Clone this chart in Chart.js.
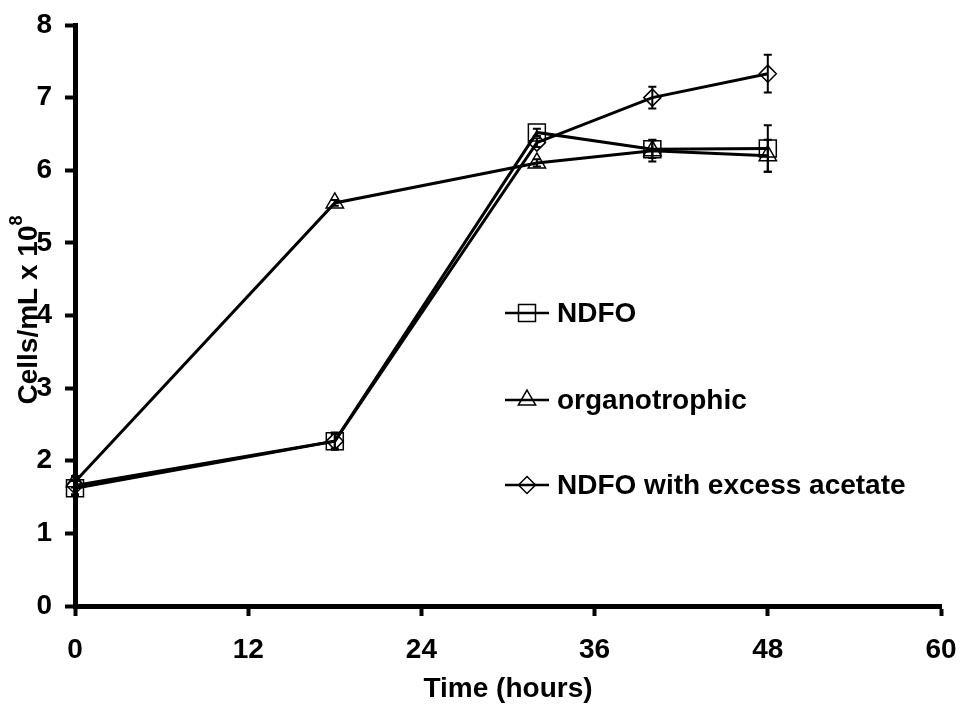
<!DOCTYPE html>
<html>
<head>
<meta charset="utf-8">
<script src="https://cdn.jsdelivr.net/npm/chart.js@4/dist/chart.umd.min.js"></script>
<style>
  body { margin: 0; background: #fff; }
  #wrap { width: 962px; height: 706px; position: relative; }
</style>
</head>
<body>
<div id="wrap"><canvas id="growth"></canvas></div>
<script>
// time points (hours)
const hours = [0, 18, 32, 40, 48];

// cells/mL x 10^8, with error bars
const ndfo = [1.62, 2.27, 6.52, 6.29, 6.3];
const ndfoErr = [0.1, 0.1, 0.05, 0.12, 0.32];
const organotrophic = [1.71, 5.55, 6.1, 6.27, 6.2];
const organotrophicErr = [0.08, 0.04, 0.05, 0.15, 0.22];
const acetate = [1.66, 2.27, 6.38, 7.0, 7.33];
const acetateErr = [0.12, 0.12, 0.06, 0.15, 0.26];

const seriesNames = ["NDFO", "organotrophic", "NDFO with excess acetate"];
const xTicks = [0, 12, 24, 36, 48, 60];
const yTicks = [0, 1, 2, 3, 4, 5, 6, 7, 8];

const FONT = "'Liberation Sans', Arial, sans-serif";

function pts(ys) {
    return hours.map((h, i) => ({ x: h, y: ys[i] }));
}

function makeSet(label, ys, errs, style, radius) {
    return {
        label: label,
        data: pts(ys),
        errors: errs,
        borderColor: "#000",
        borderWidth: 3,
        backgroundColor: "transparent",
        pointStyle: style,
        pointRadius: radius,
        pointBorderColor: "#000",
        pointBackgroundColor: "transparent",
        pointBorderWidth: 1.5,
        tension: 0,
        clip: false
    };
}

// error bars drawn from the scales
const errorBars = {
    id: "errorBars",
    afterDatasetsDraw(chart) {
        const ctx = chart.ctx;
        const yScale = chart.scales.y;
        ctx.save();
        ctx.strokeStyle = "#000";
        ctx.lineWidth = 2;
        chart.data.datasets.forEach((ds, i) => {
            const meta = chart.getDatasetMeta(i);
            meta.data.forEach((pt, j) => {
                const e = ds.errors[j];
                const v = ds.data[j].y;
                const top = yScale.getPixelForValue(v + e);
                const bot = yScale.getPixelForValue(v - e);
                ctx.beginPath();
                ctx.moveTo(pt.x, top); ctx.lineTo(pt.x, bot);
                ctx.moveTo(pt.x - 4, top); ctx.lineTo(pt.x + 4, top);
                ctx.moveTo(pt.x - 4, bot); ctx.lineTo(pt.x + 4, bot);
                ctx.stroke();
            });
        });
        ctx.restore();
    }
};

// in-plot legend and axis titles
const decorations = {
    id: "decorations",
    afterDraw(chart) {
        const ctx = chart.ctx;
        ctx.save();
        ctx.font = "bold 28px " + FONT;

        // legend
        const rows = [313, 400, 485];
        chart.data.datasets.forEach((ds, i) => {
            const y = rows[i];
            ctx.strokeStyle = "#000";
            ctx.lineWidth = 2.5;
            ctx.beginPath();
            ctx.moveTo(505, y); ctx.lineTo(549, y);
            ctx.stroke();
            ctx.lineWidth = 1.5;
            ctx.fillStyle = "rgba(0,0,0,0)";
            Chart.helpers.drawPoint(ctx, { pointStyle: ds.pointStyle, radius: ds.pointRadius, rotation: 0, borderWidth: 1.5 }, 527, y);
            ctx.fillStyle = "#000";
            ctx.textAlign = "left";
            ctx.textBaseline = "middle";
            ctx.fillText(ds.label, 557, y + 1);
        });

        // x title
        ctx.fillStyle = "#000";
        ctx.textAlign = "center";
        ctx.textBaseline = "middle";
        ctx.fillText("Time (hours)", (chart.chartArea.left + chart.chartArea.right) / 2, 689);

        // y title with superscript
        ctx.save();
        ctx.translate(28, 310);
        ctx.rotate(-Math.PI / 2);
        const main = "Cells/mL x 10";
        const wMain = ctx.measureText(main).width;
        ctx.font = "bold 18px " + FONT;
        const wSup = ctx.measureText("8").width;
        const x0 = -(wMain + wSup) / 2;
        ctx.textAlign = "left";
        ctx.fillText("8", x0 + wMain, -11);
        ctx.font = "bold 28px " + FONT;
        ctx.fillText(main, x0, 1);
        ctx.restore();

        ctx.restore();
    }
};

new Chart(document.getElementById("growth"), {
    type: "line",
    data: {
        datasets: [
            makeSet(seriesNames[0], ndfo, ndfoErr, "rect", 12),
            makeSet(seriesNames[1], organotrophic, organotrophicErr, "triangle", 10),
            makeSet(seriesNames[2], acetate, acetateErr, "rectRot", 8.5)
        ]
    },
    options: {
        responsive: true,
        maintainAspectRatio: false,
        animation: false,
        layout: { padding: { top: 25, right: 21, left: 0, bottom: 0 } },
        plugins: { legend: { display: false }, tooltip: { enabled: false } },
        scales: {
            x: {
                type: "linear",
                min: 0,
                max: 60,
                afterBuildTicks: s => { s.ticks = xTicks.map(v => ({ value: v })); },
                afterFit: s => { s.height = 100; s.paddingLeft = 0; s.paddingRight = 0; },
                border: { width: 5, color: "#000" },
                grid: { drawOnChartArea: false, tickLength: 10, tickWidth: 4, tickColor: "#000" },
                ticks: { color: "#000", padding: 17, font: { family: FONT, size: 28, weight: "bold" } }
            },
            y: {
                min: 0,
                max: 8,
                afterBuildTicks: s => { s.ticks = yTicks.map(v => ({ value: v })); },
                afterFit: s => { s.width = 75; s.paddingTop = 0; s.paddingBottom = 0; },
                border: { width: 5, color: "#000" },
                grid: { drawOnChartArea: false, tickLength: 10, tickWidth: 4, tickColor: "#000" },
                ticks: { color: "#000", padding: 13, font: { family: FONT, size: 28, weight: "bold" } }
            }
        }
    },
    plugins: [errorBars, decorations]
});
</script>
</body>
</html>
